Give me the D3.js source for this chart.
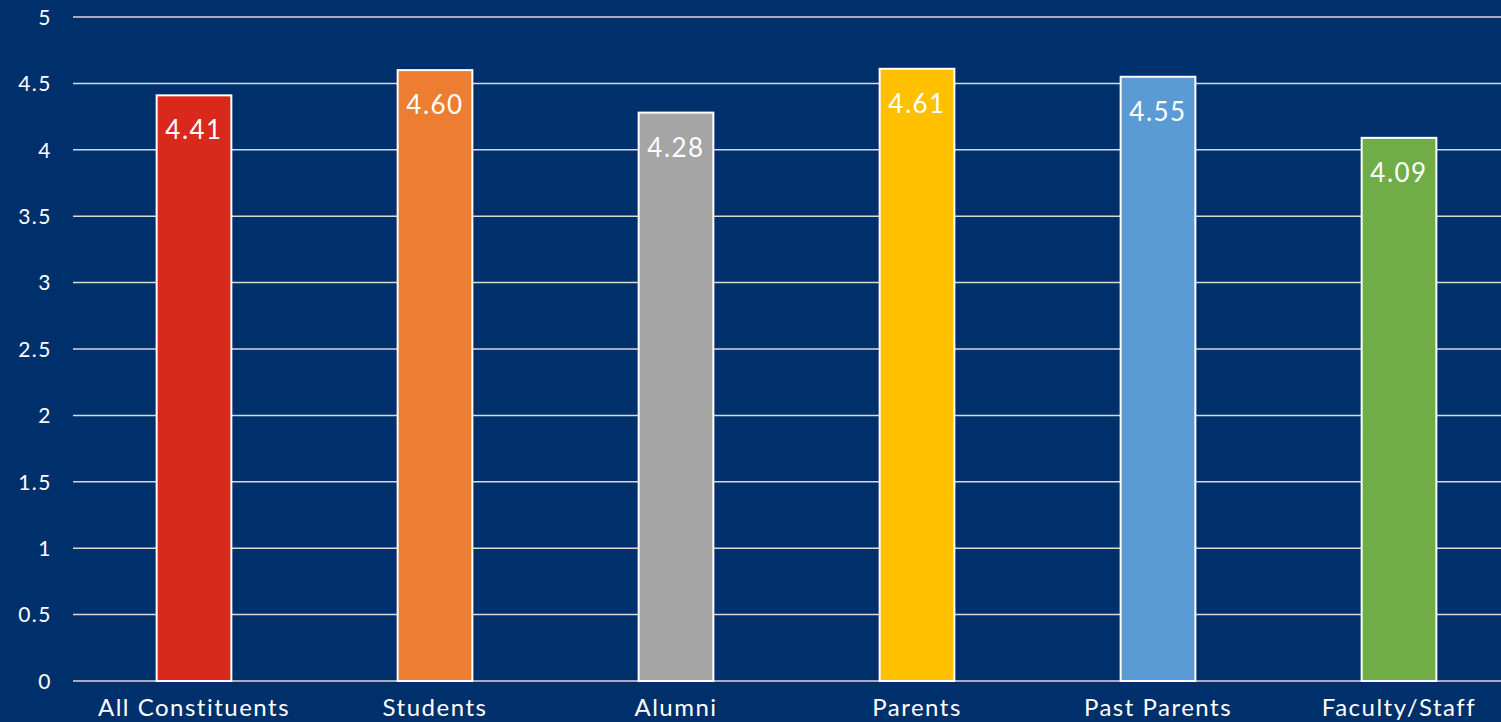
<!DOCTYPE html>
<html><head><meta charset="utf-8">
<script src="https://cdn.jsdelivr.net/npm/d3@7"></script>
<style>
html,body{margin:0;padding:0;background:#00306b;overflow:hidden;}
text{font-family:Lato,"Open Sans",sans-serif;fill:#fff;}
</style></head>
<body>
<svg id="c" width="1501" height="722"></svg>
<script>
const categories = ["All Constituents","Students","Alumni","Parents","Past Parents","Faculty/Staff"];
const values = [4.41, 4.60, 4.28, 4.61, 4.55, 4.09];
const valueLabels = ["4.41","4.60","4.28","4.61","4.55","4.09"];
const colors = ["#d9291c","#ed7d31","#a5a5a5","#ffc000","#5b9bd5","#70ad47"];
const yTicks = [0,0.5,1,1.5,2,2.5,3,3.5,4,4.5,5];
const yTickLabels = ["0","0.5","1","1.5","2","2.5","3","3.5","4","4.5","5"];

const svg = d3.select("#c");
svg.append("rect").attr("width",1501).attr("height",722).attr("fill","#00306b");

const x = d3.scaleBand().domain(categories).range([73.5, 1519.5]).paddingInner(0.69).paddingOuter(0.345);
const y = d3.scaleLinear().domain([0,5]).range([681,17]);

// gridlines
svg.append("g").selectAll("line").data(yTicks).join("line")
  .attr("x1",73).attr("x2",1501)
  .attr("y1",d=>y(d)).attr("y2",d=>y(d))
  .attr("stroke","#d9d9d9").attr("stroke-width",1.5);

// y tick labels
const yAxis = d3.axisLeft(y).tickValues(yTicks).tickSize(0).tickPadding(0)
  .tickFormat((d,i)=>yTickLabels[i]);
const ya = svg.append("g").attr("transform","translate(52,0)").call(yAxis);
ya.select(".domain").remove();
ya.selectAll("text").attr("fill","#fff").style("font-size","21px").style("letter-spacing","1.5px").attr("dy","0.35em");

// bars
svg.append("g").selectAll("rect").data(values).join("rect")
  .attr("x",(d,i)=>x(categories[i]))
  .attr("y",d=>y(d))
  .attr("width",x.bandwidth())
  .attr("height",d=>y(0)-y(d))
  .attr("fill",(d,i)=>colors[i])
  .attr("stroke","#fff").attr("stroke-width",2);

// value labels
svg.append("g").selectAll("text").data(values).join("text")
  .attr("x",(d,i)=>x(categories[i])+x.bandwidth()/2)
  .attr("y",d=>y(d)+44)
  .attr("text-anchor","middle")
  .style("font-size","26px")
  .style("letter-spacing","1.5px")
  .text((d,i)=>valueLabels[i]);

// category labels
const xAxis = d3.axisBottom(x).tickSize(0).tickPadding(0);
const xa = svg.append("g").attr("transform","translate(0,681)").call(xAxis);
xa.select(".domain").remove();
xa.selectAll("text").attr("fill","#fff").style("font-size","24px").style("letter-spacing","1.5px").attr("dy","0").attr("y",35);
</script>
</body></html>
